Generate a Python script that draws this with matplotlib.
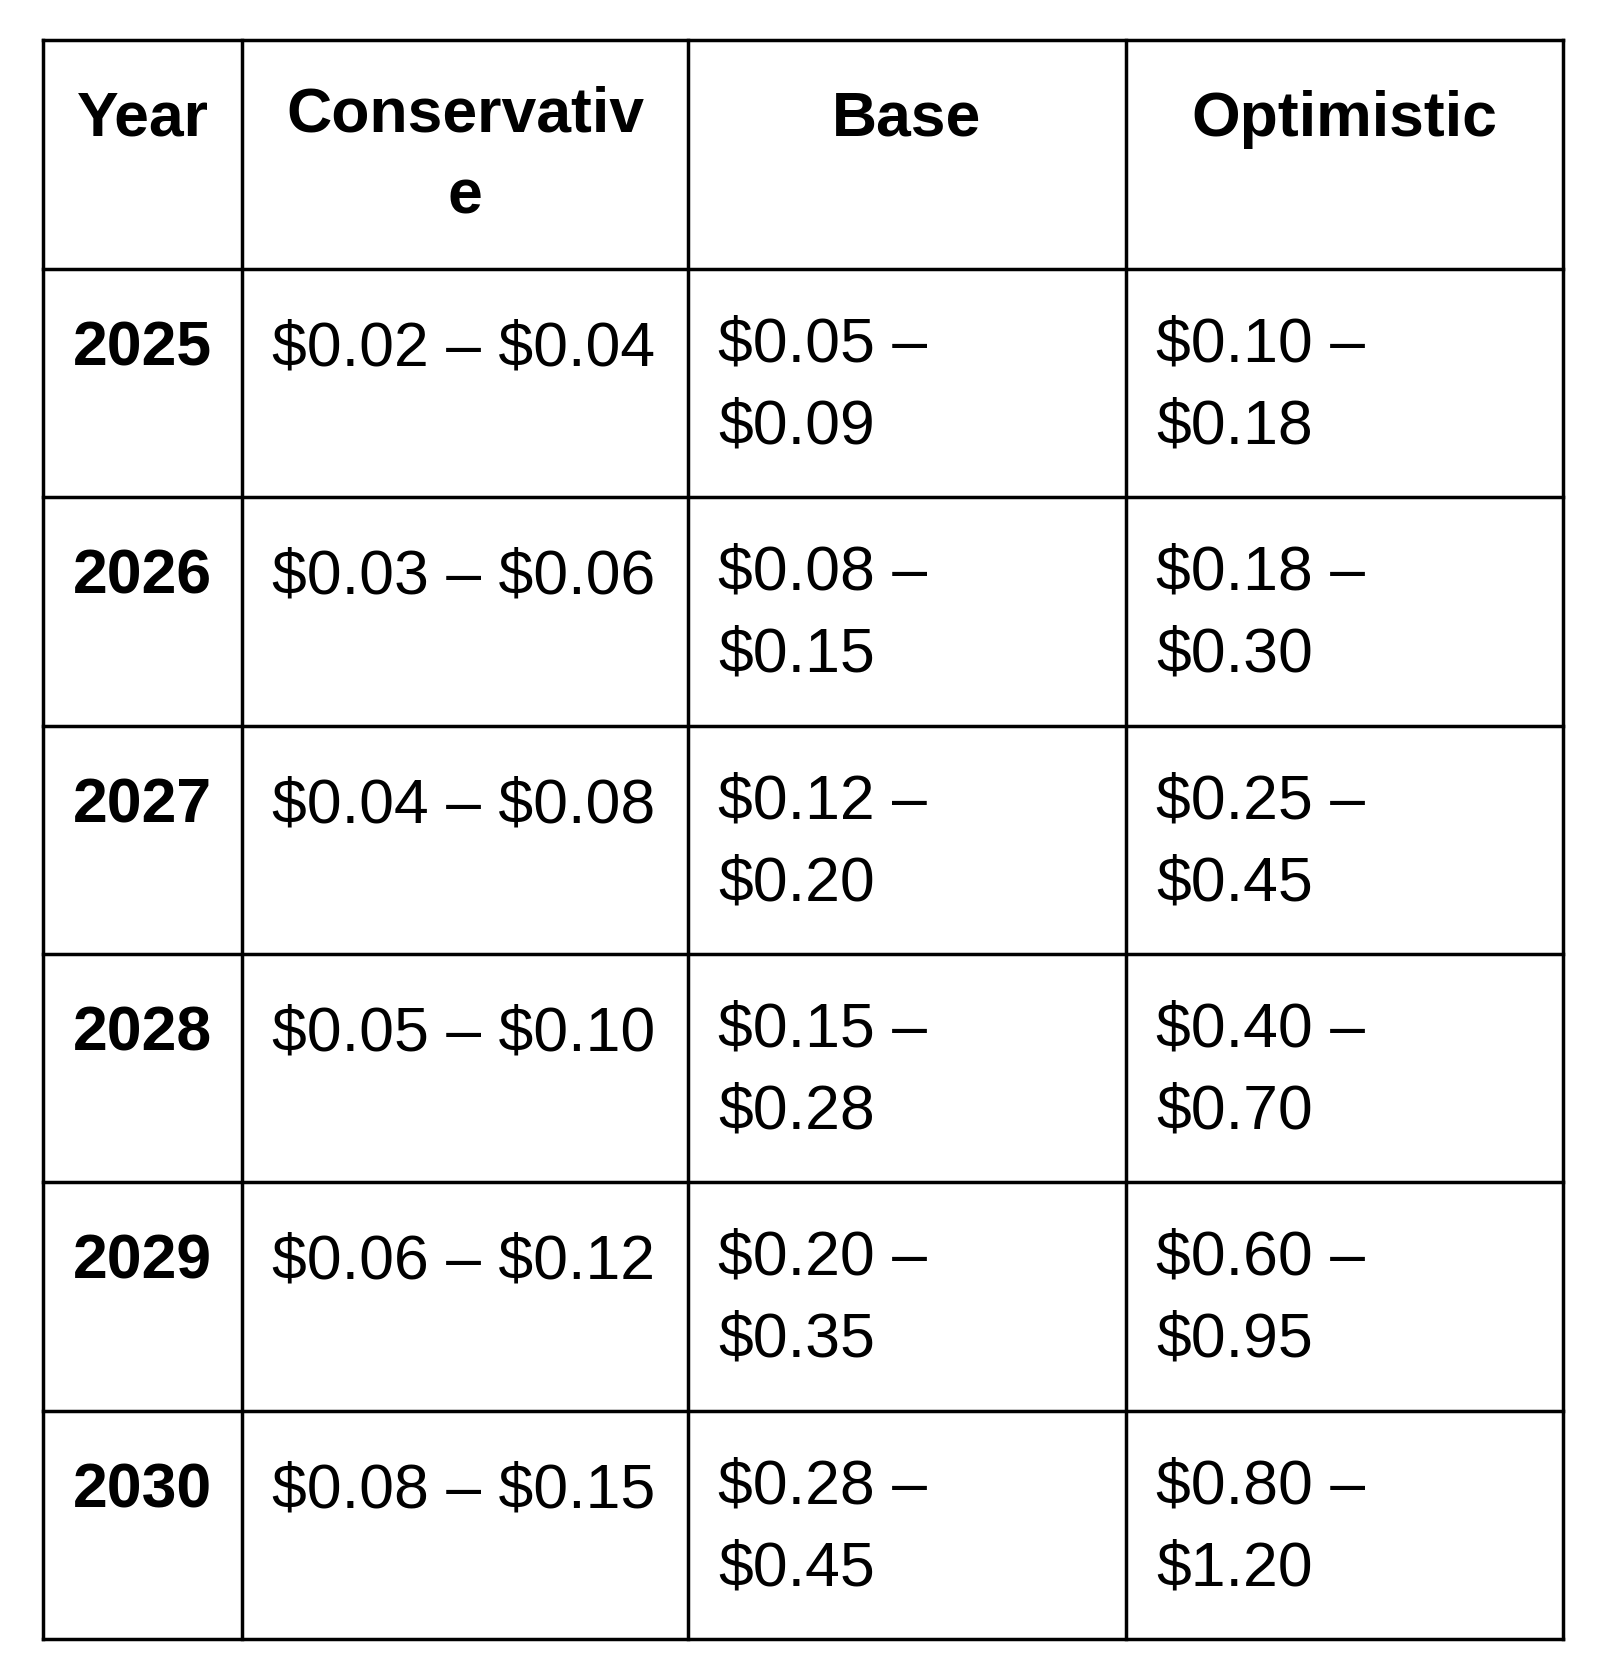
import matplotlib
matplotlib.use("Agg")
import matplotlib.pyplot as plt

headers = ["Year", "Conservativ\ne", "Base", "Optimistic"]
years = ["2025", "2026", "2027", "2028", "2029", "2030"]
conservative = ["$0.02 – $0.04", "$0.03 – $0.06", "$0.04 – $0.08", "$0.05 – $0.10", "$0.06 – $0.12", "$0.08 – $0.15"]
base = ["$0.05 –\n$0.09", "$0.08 –\n$0.15", "$0.12 –\n$0.20", "$0.15 –\n$0.28", "$0.20 –\n$0.35", "$0.28 –\n$0.45"]
optimistic = ["$0.10 –\n$0.18", "$0.18 –\n$0.30", "$0.25 –\n$0.45", "$0.40 –\n$0.70", "$0.60 –\n$0.95", "$0.80 –\n$1.20"]

W, H = 1600, 1681
fig = plt.figure(figsize=(W/100, H/100), dpi=100)
ax = fig.add_axes([0, 0, 1, 1])
ax.set_xlim(0, W); ax.set_ylim(H, 0); ax.axis("off")

cols = [43, 242, 688, 1126, 1563]
rows = [41, 270, 498, 727, 955, 1183, 1412, 1640]
for x in cols:
    ax.plot([x, x], [rows[0], rows[-1]], color="black", lw=2.5, solid_capstyle="projecting")
for y in rows:
    ax.plot([cols[0], cols[-1]], [y, y], color="black", lw=2.5, solid_capstyle="projecting")

fam = ["Liberation Sans", "DejaVu Sans"]
fs = 45
lsp = 1.5

for i, h in enumerate(headers):
    cx = (cols[i] + cols[i+1]) / 2
    nl = h.count("\n")
    ax.text(cx, rows[0] + 95 + nl * 78, h, ha="center", va="baseline", fontsize=fs,
            family=fam, fontweight="bold", linespacing=lsp, multialignment="center",
            parse_math=False)

for r in range(len(years)):
    top = rows[r+1]
    ax.text((cols[0]+cols[1])/2, top + 96, years[r], ha="center", va="baseline",
            fontsize=fs, family=fam, fontweight="bold", parse_math=False)
    ax.text(cols[1] + 30, top + 96, conservative[r], ha="left", va="baseline",
            fontsize=fs, family=fam, parse_math=False)
    for c, vals in ((2, base), (3, optimistic)):
        ax.text(cols[c] + 30, top + 96 + 78, vals[r], ha="left", va="baseline",
                fontsize=fs, family=fam, linespacing=lsp, parse_math=False)

fig.savefig("out.png", dpi=100, facecolor="white")
